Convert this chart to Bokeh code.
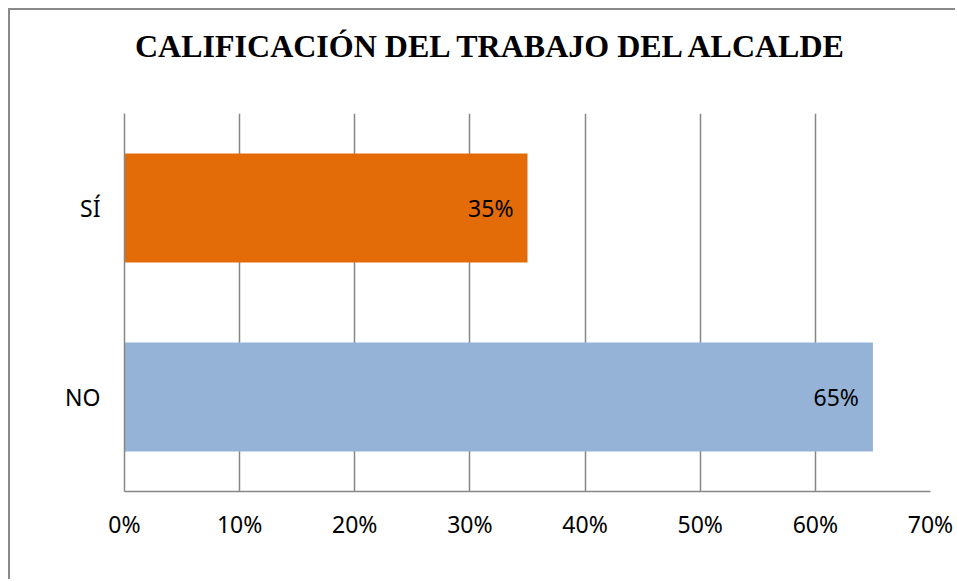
from bokeh.plotting import figure
from bokeh.models import FactorRange, Range1d, FixedTicker, NumeralTickFormatter, ColumnDataSource, Div
from bokeh.layouts import column
from bokeh.core.properties import value
from bokeh.embed import file_html
from bokeh.resources import INLINE

categories = ["NO", "SÍ"]
values = [0.65, 0.35]
labels = ["65%", "35%"]
colors = ["#95B3D7", "#E36C09"]
x_ticks = [0, 0.1, 0.2, 0.3, 0.4, 0.5, 0.6, 0.7]
title_text = "CALIFICACIÓN DEL TRABAJO DEL ALCALDE"

src = ColumnDataSource(dict(cat=categories, val=values, lab=labels, col=colors))

title_div = Div(
    text=('<div style="padding:20px 0 0 125px; font-family:\'Liberation Serif\'; font-size:32px; '
          'font-weight:bold; line-height:32px; white-space:nowrap; color:black">'
          + title_text + '</div>'),
    width=945, height=80, margin=(0, 0, 0, 0))

p = figure(width=945, height=489, output_backend="svg", toolbar_location=None,
           y_range=FactorRange(factors=categories, range_padding=0),
           x_range=Range1d(0, 0.7),
           min_border_left=114, min_border_right=25, min_border_top=23, min_border_bottom=88)
p.title = None

p.hbar(y="cat", right="val", left=0, height=0.577, color="col", line_color=None, source=src)
p.text(x="val", y="cat", text="lab", source=src, text_align="right", text_baseline="middle",
       x_offset=-14, text_font=value("Noto Sans"), text_font_size="23px", text_color="black")

p.outline_line_color = None
p.ygrid.grid_line_color = None
p.xgrid.grid_line_color = "#868686"
p.xgrid.grid_line_width = 1.5
p.xaxis.ticker = FixedTicker(ticks=x_ticks)
p.xaxis.formatter = NumeralTickFormatter(format="0%")
for ax in (p.xaxis[0], p.yaxis[0]):
    ax.axis_line_color = "#868686"
    ax.axis_line_width = 1.5
    ax.major_tick_line_color = None
    ax.minor_tick_line_color = None
    ax.major_label_text_font = "Noto Sans"
    ax.major_label_text_font_size = "23px"
    ax.major_label_text_color = "black"
p.xaxis.major_label_standoff = 10
p.yaxis.major_label_standoff = 18

layout = column(title_div, p, spacing=0)
layout.styles = {"border-left": "2px solid #8a8a8a", "border-top": "2px solid #8a8a8a",
                 "margin-left": "8px", "margin-top": "8px", "background-color": "white"}

open("out.html", "w").write(file_html(layout, INLINE))
